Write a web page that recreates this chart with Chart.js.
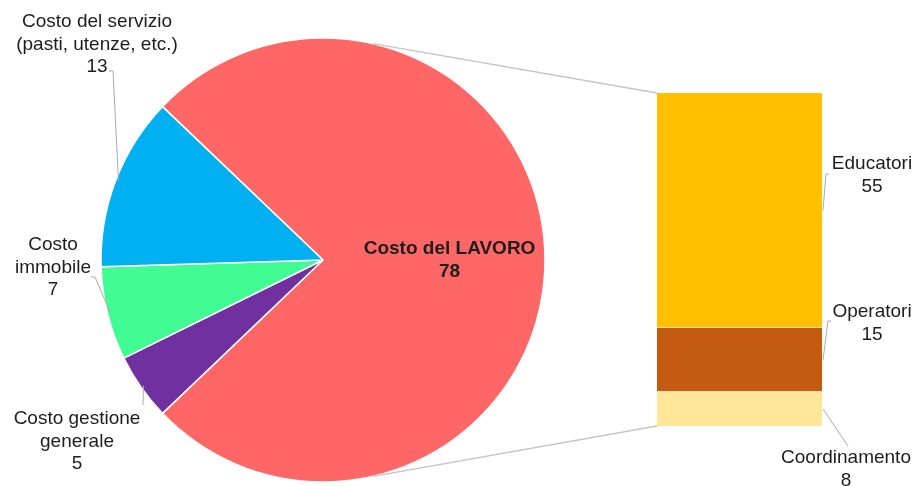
<!DOCTYPE html>
<html>
<head>
<meta charset="utf-8">
<script src="https://cdn.jsdelivr.net/npm/chart.js@4.4.0/dist/chart.umd.min.js"></script>
<style>
  html, body { margin: 0; padding: 0; background: #fff; }
  #wrap { position: relative; width: 917px; height: 486px; overflow: hidden; }
  #wrap canvas { position: absolute; left: 0; top: 0; }
</style>
</head>
<body>
<div id="wrap">
  <canvas id="pie" width="917" height="486"></canvas>
  <canvas id="bar" width="917" height="486"></canvas>
</div>
<script>
// cost breakdown: main pie + split of labour cost
var pieLabels = ['Costo del LAVORO', 'Costo gestione generale', 'Costo immobile', 'Costo del servizio (pasti, utenze, etc.)'];
var pieLines = [['Costo del LAVORO'], ['Costo gestione', 'generale'], ['Costo', 'immobile'], ['Costo del servizio', '(pasti, utenze, etc.)']];
var pieValues = [78, 5, 7, 13];
var pieColors = ['#FF6666', '#7030A0', '#40FC92', '#00B0F0'];

var barLabels = ['Coordinamento', 'Operatori', 'Educatori'];
var barValues = [8, 15, 55];
var barColors = ['#FFE699', '#C55A11', '#FFC000'];

var FONT = "'Liberation Sans', Helvetica, Arial, sans-serif";
var TEXT = '#1d1d1d';
var LEADER = '#ababab';

var pieTotal = pieValues.reduce(function (a, b) { return a + b; }, 0);
var barTotal = barValues.reduce(function (a, b) { return a + b; }, 0);
// centre the big slice on the right-hand side
var rotation = 90 - (pieValues[0] / pieTotal) * 180;

// where the outside labels sit (first line centre) and the leader elbow
var pieLabelPos = [
  null,
  { x: 77, y: 419, elbow: [143, 405], tick: 0 },
  { x: 53, y: 245, elbow: [95, 277], tick: -4 },
  { x: 97, y: 22, elbow: [113, 71], tick: -4 }
];
var barLabelPos = [
  { x: 846, y: 458, elbow: [848, 446], tick: 0 },
  { x: 872, y: 312, elbow: [828, 321], tick: 3 },
  { x: 872, y: 164, elbow: [826, 174], tick: 3 }
];
var LINE_H = 22.5;

function drawText(ctx, lines, x, y, bold) {
  ctx.save();
  ctx.fillStyle = TEXT;
  ctx.font = (bold ? 'bold ' : '') + '19px ' + FONT;
  ctx.textAlign = 'center';
  ctx.textBaseline = 'middle';
  lines.forEach(function (t, i) { ctx.fillText(t, x, y + i * LINE_H); });
  ctx.restore();
}

function drawLeader(ctx, from, elbow, tick) {
  ctx.save();
  ctx.strokeStyle = LEADER;
  ctx.lineWidth = 1;
  ctx.beginPath();
  ctx.moveTo(from[0], from[1]);
  ctx.lineTo(elbow[0], elbow[1]);
  if (tick) ctx.lineTo(elbow[0] + tick, elbow[1]);
  ctx.stroke();
  ctx.restore();
}

var pieLabelPlugin = {
  id: 'pieLabels',
  afterDraw: function (chart) {
    var ctx = chart.ctx;
    var arcs = chart.getDatasetMeta(0).data;
    arcs.forEach(function (arc, i) {
      var p = arc.getProps(['x', 'y', 'startAngle', 'endAngle', 'outerRadius'], true);
      var mid = (p.startAngle + p.endAngle) / 2;
      if (i === 0) {
        var r = p.outerRadius * 0.57;
        drawText(ctx, [pieLines[i][0], String(pieValues[i])], p.x + Math.cos(mid) * r, p.y + Math.sin(mid) * r - 11, true);
        return;
      }
      var pos = pieLabelPos[i];
      var rr = p.outerRadius - 3;
      drawLeader(ctx, [p.x + Math.cos(mid) * rr, p.y + Math.sin(mid) * rr], pos.elbow, pos.tick);
      drawText(ctx, pieLines[i].concat([String(pieValues[i])]), pos.x, pos.y, false);
    });
  }
};

var pieChart = new Chart(document.getElementById('pie'), {
  type: 'pie',
  data: {
    labels: pieLabels,
    datasets: [{
      data: pieValues,
      backgroundColor: pieColors,
      borderColor: '#ffffff',
      borderWidth: 1.5
    }]
  },
  options: {
    responsive: false,
    animation: false,
    devicePixelRatio: 1,
    rotation: rotation,
    radius: 222,
    layout: { padding: { left: 101, right: 372, top: 38, bottom: 4 } },
    plugins: { legend: { display: false }, tooltip: { enabled: false } }
  },
  plugins: [pieLabelPlugin]
});

var CONNECT_ANGLE = 77 * Math.PI / 180;

var barLabelPlugin = {
  id: 'barLabels',
  afterDraw: function (chart) {
    var ctx = chart.ctx;
    var bars = chart.data.datasets.map(function (d, i) { return chart.getDatasetMeta(i).data[0]; });
    var top = bars[bars.length - 1].getProps(['x', 'y', 'width', 'base'], true);
    var bottom = bars[0].getProps(['x', 'y', 'width', 'base'], true);
    var left = top.x - top.width / 2;
    var right = top.x + top.width / 2;

    // connector lines from the pie's big slice to the bar
    var arc = pieChart.getDatasetMeta(0).data[0].getProps(['x', 'y', 'outerRadius'], true);
    ctx.save();
    ctx.strokeStyle = '#c4c4c4';
    ctx.lineWidth = 1.3;
    ctx.beginPath();
    ctx.moveTo(arc.x + Math.cos(-CONNECT_ANGLE) * arc.outerRadius, arc.y + Math.sin(-CONNECT_ANGLE) * arc.outerRadius);
    ctx.lineTo(left, top.y);
    ctx.moveTo(arc.x + Math.cos(CONNECT_ANGLE) * arc.outerRadius, arc.y + Math.sin(CONNECT_ANGLE) * arc.outerRadius);
    ctx.lineTo(left, bottom.base);
    ctx.stroke();
    ctx.restore();

    bars.forEach(function (b, i) {
      var p = b.getProps(['x', 'y', 'width', 'base'], true);
      var pos = barLabelPos[i];
      drawLeader(ctx, [right + 1, (p.y + p.base) / 2], pos.elbow, pos.tick);
      drawText(ctx, [barLabels[i], String(barValues[i])], pos.x, pos.y, false);
    });
  }
};

var barChart = new Chart(document.getElementById('bar'), {
  type: 'bar',
  data: {
    labels: [pieLabels[0]],
    datasets: barLabels.map(function (l, i) {
      return {
        label: l,
        data: [barValues[i]],
        backgroundColor: barColors[i],
        borderColor: '#ffffff',
        borderWidth: i > 0 ? { top: 0, left: 0, right: 0, bottom: 1 } : 0,
        borderSkipped: false,
        barPercentage: 1,
        categoryPercentage: 1
      };
    })
  },
  options: {
    responsive: false,
    animation: false,
    devicePixelRatio: 1,
    layout: { padding: { left: 657, right: 95, top: 93, bottom: 60 } },
    scales: {
      x: { display: false, stacked: true },
      y: { display: false, stacked: true, min: 0, max: barTotal }
    },
    plugins: { legend: { display: false }, tooltip: { enabled: false } }
  },
  plugins: [barLabelPlugin]
});
</script>
</body>
</html>
